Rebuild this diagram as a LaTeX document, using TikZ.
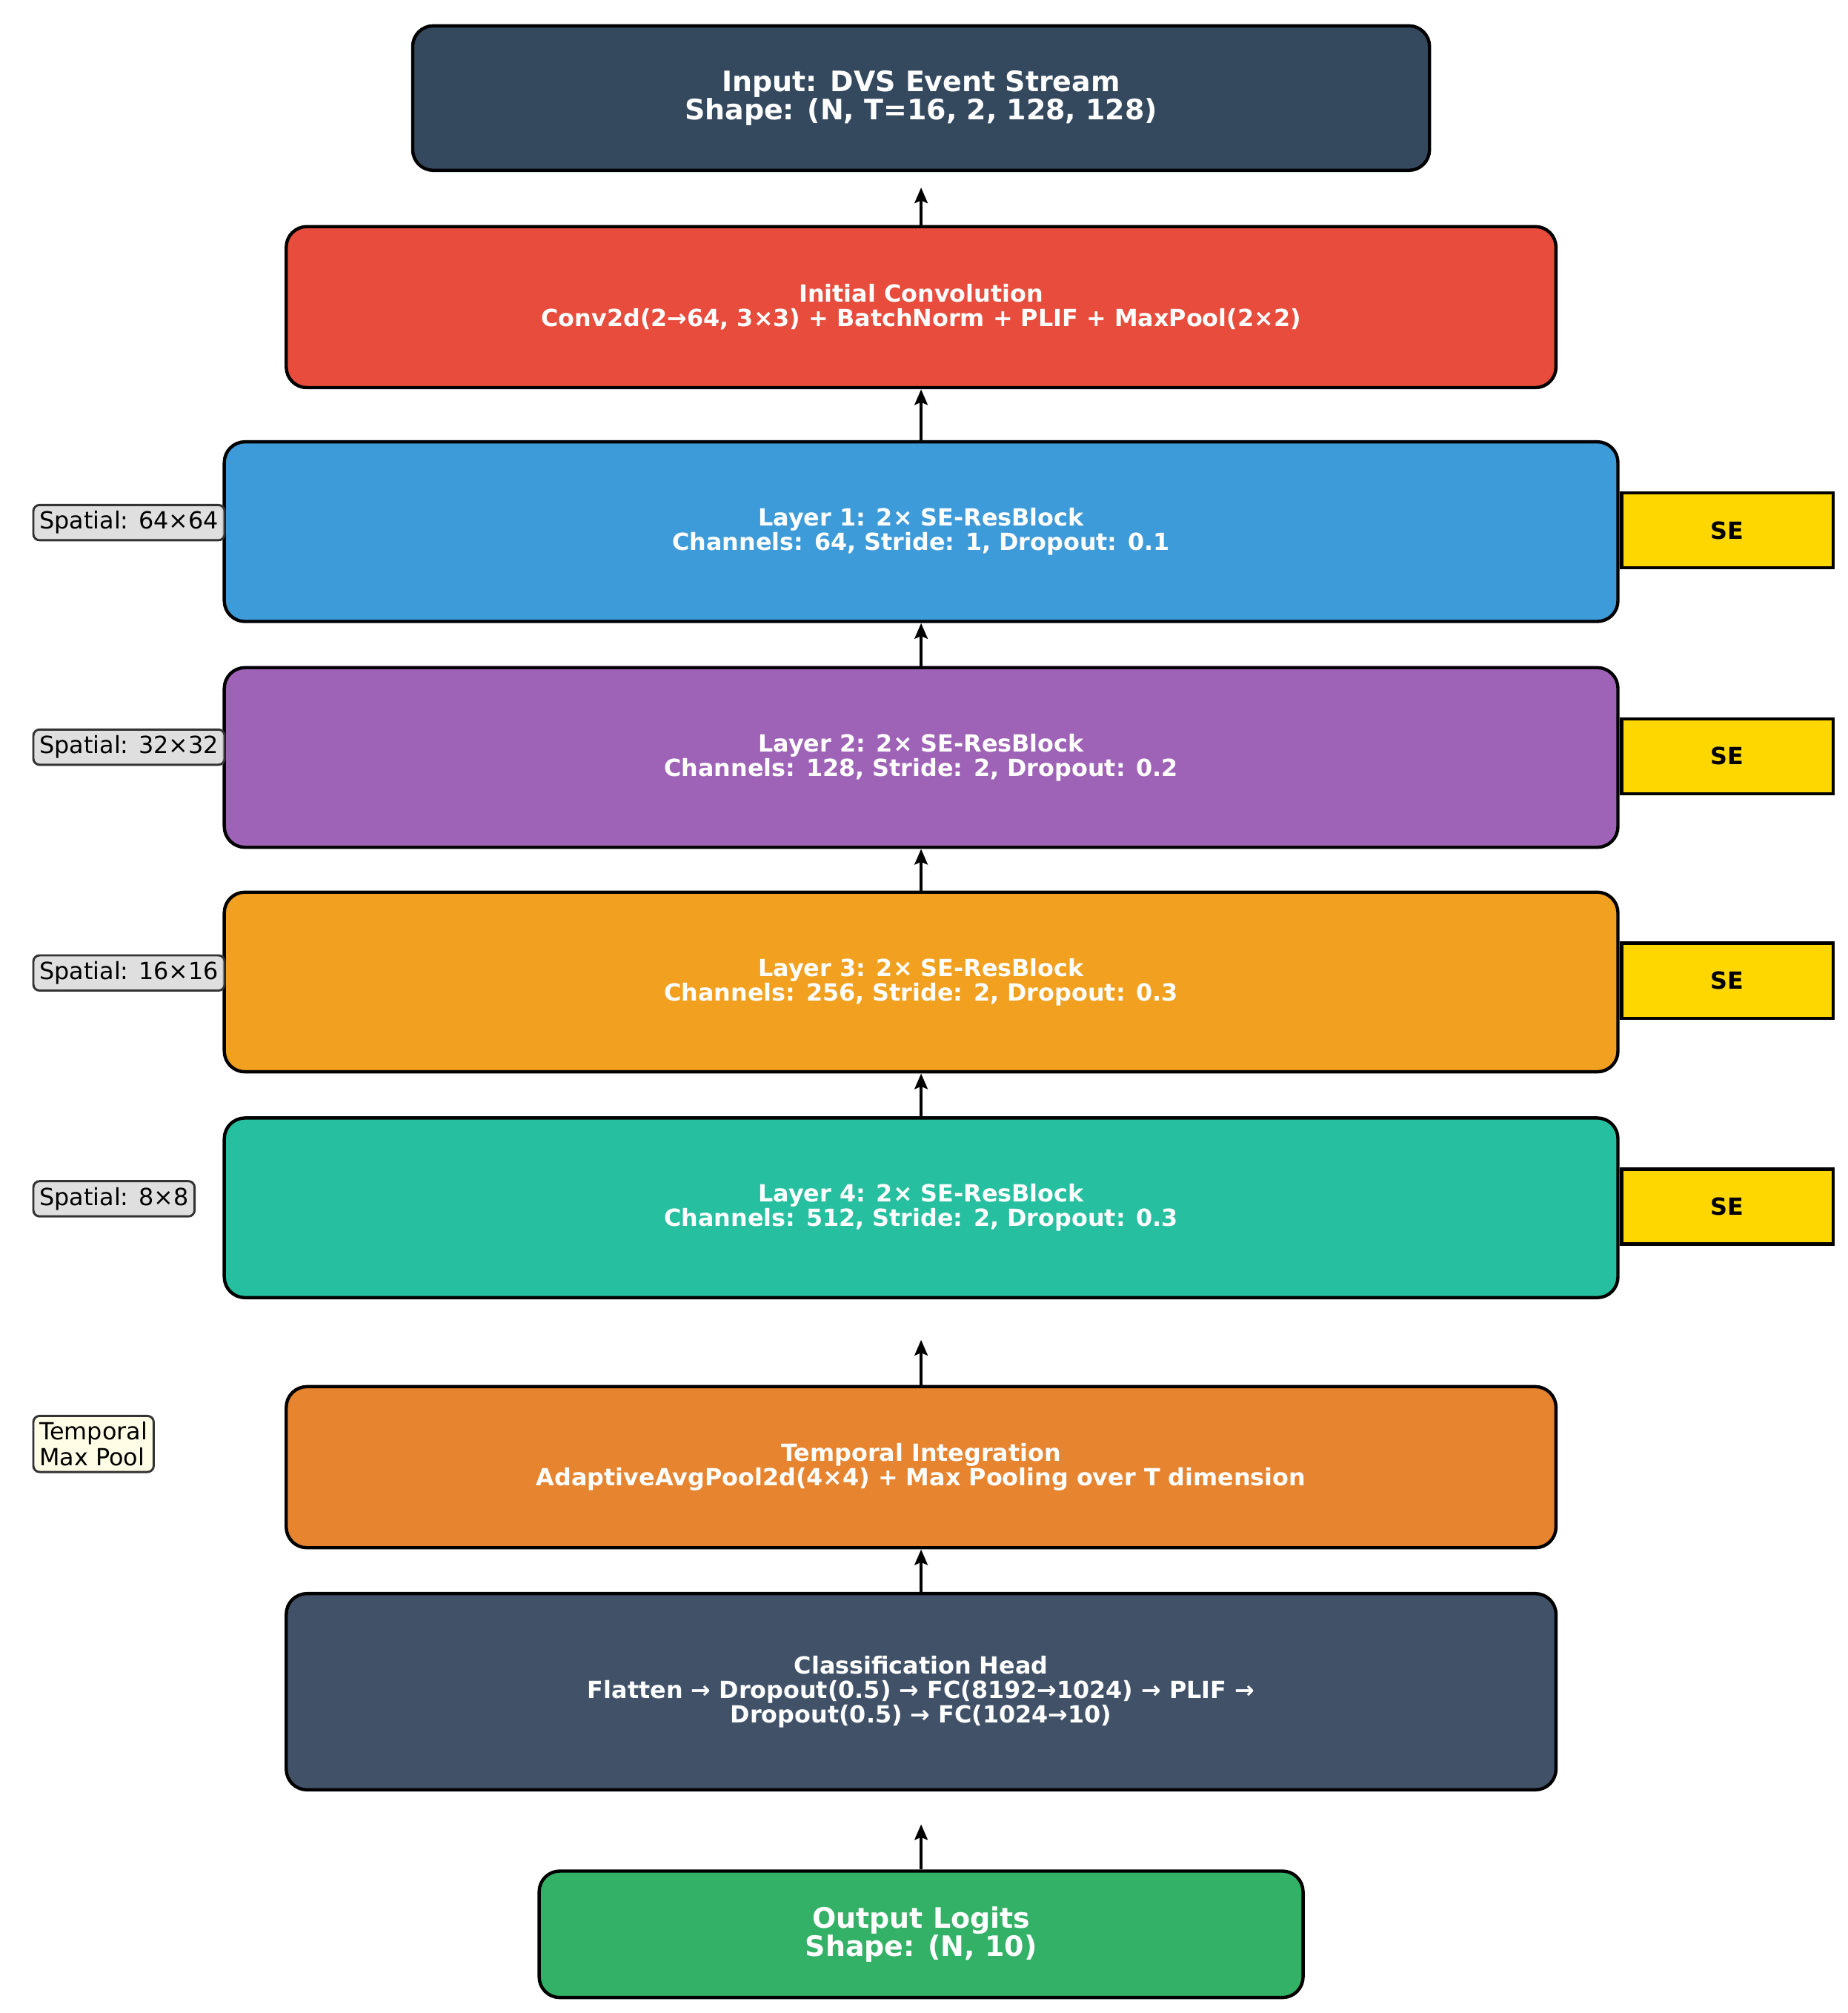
\documentclass[tikz,border=0pt]{standalone}
\usepackage{fontspec}
\setmainfont{DejaVu Sans}
\usepackage{tikz}
\usetikzlibrary{arrows.meta, positioning}
\definecolor{cinput}{HTML}{34495E}
\definecolor{cconv}{HTML}{E74C3C}
\definecolor{cone}{HTML}{3E9BD9}
\definecolor{ctwo}{HTML}{9E63B6}
\definecolor{cthree}{HTML}{F2A01F}
\definecolor{cfour}{HTML}{26BF9F}
\definecolor{ctemp}{HTML}{E68430}
\definecolor{chead}{HTML}{415268}
\definecolor{cout}{HTML}{33B166}
\definecolor{cse}{HTML}{FFD700}
\tikzstyle{block} = [rectangle, rounded corners=0.4cm, draw=black, line width=1.8pt, text=white, font=\fontsize{13}{13.5}\selectfont\bfseries, align=center]
\tikzstyle{big} = [font=\fontsize{15.5}{15.5}\selectfont\bfseries]
\tikzstyle{se} = [rectangle, draw=black, line width=1.8pt, fill=cse, minimum width=4.1cm, minimum height=1.45cm, font=\fontsize{13}{13.5}\selectfont\bfseries]
\tikzstyle{tag} = [rectangle, rounded corners=0.12cm, draw=black!80, line width=1.2pt, fill=black!15, fill opacity=0.85, text opacity=1, anchor=west, align=left, inner sep=0.12cm, font=\fontsize{13}{14}\selectfont]
\tikzstyle{arrow} = [line width=1.8pt, -{Stealth[length=0.3cm, width=0.25cm, inset=0.05cm]}]

\begin{document}
\begin{tikzpicture}[x=0.025cm, y=-0.025cm]
\useasboundingbox (0,0) rectangle (1432,1560);

\node (input) [block, big, fill=cinput, minimum width=19.7cm, minimum height=2.8cm] at (714,76) {Input: DVS Event Stream\\Shape: (N, T=16, 2, 128, 128)};
\node (conv) [block, fill=cconv, minimum width=24.6cm, minimum height=3.12cm] at (714,238) {Initial Convolution\\Conv2d(2→64, 3×3) + BatchNorm + PLIF + MaxPool(2×2)};
\node (layer1) [block, fill=cone, minimum width=27cm, minimum height=3.48cm] at (714,412) {Layer 1: 2× SE-ResBlock\\Channels: 64, Stride: 1, Dropout: 0.1};
\node (layer2) [block, fill=ctwo, minimum width=27cm, minimum height=3.48cm] at (714,587) {Layer 2: 2× SE-ResBlock\\Channels: 128, Stride: 2, Dropout: 0.2};
\node (layer3) [block, fill=cthree, minimum width=27cm, minimum height=3.48cm] at (714,761) {Layer 3: 2× SE-ResBlock\\Channels: 256, Stride: 2, Dropout: 0.3};
\node (layer4) [block, fill=cfour, minimum width=27cm, minimum height=3.48cm] at (714,936) {Layer 4: 2× SE-ResBlock\\Channels: 512, Stride: 2, Dropout: 0.3};
\node (temporal) [block, fill=ctemp, minimum width=24.6cm, minimum height=3.12cm] at (714,1137) {Temporal Integration\\AdaptiveAvgPool2d(4×4) + Max Pooling over T dimension};
\node (head) [block, fill=chead, minimum width=24.6cm, minimum height=3.8cm] at (714,1311) {Classification Head\\Flatten → Dropout(0.5) → FC(8192→1024) → PLIF →\\Dropout(0.5) → FC(1024→10)};
\node (output) [block, big, fill=cout, minimum width=14.8cm, minimum height=2.45cm] at (714,1499) {Output Logits\\Shape: (N, 10)};

% squeeze-excitation markers
\node (se1) [se] at (1339,411) {SE};
\node (se2) [se] at (1339,586) {SE};
\node (se3) [se] at (1339,760) {SE};
\node (se4) [se] at (1339,935) {SE};

% side notes
\node (sp1) [tag] at (25,405) {Spatial: 64×64};
\node (sp2) [tag] at (25,579) {Spatial: 32×32};
\node (sp3) [tag] at (25,754) {Spatial: 16×16};
\node (sp4) [tag] at (25,929) {Spatial: 8×8};
\node (tmax) [tag, fill=yellow!12] at (25,1119) {Temporal\\Max Pool};

\draw [arrow] (conv.north) -- ++(0,-29);
\draw [arrow] (layer1.north) -- (conv.south);
\draw [arrow] (layer2.north) -- (layer1.south);
\draw [arrow] (layer3.north) -- (layer2.south);
\draw [arrow] (layer4.north) -- (layer3.south);
\draw [arrow] (temporal.north) -- ++(0,-35);
\draw [arrow] (head.north) -- (temporal.south);
\draw [arrow] (output.north) -- ++(0,-35);

\end{tikzpicture}
\end{document}
